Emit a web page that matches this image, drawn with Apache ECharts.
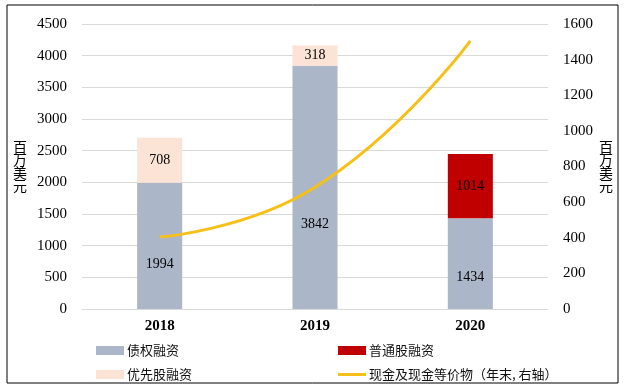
<!DOCTYPE html>
<html><head><meta charset="utf-8">
<script src="https://cdn.jsdelivr.net/npm/echarts@6/dist/echarts.min.js"></script>
<style>html,body{margin:0;padding:0;background:#fff}#c{width:629px;height:392px}</style>
</head><body><div id="c"></div>
<script>
const categories = ['2018', '2019', '2020'];
const debt = [1994, 3842, 1434];
const preferred = [708, 318, null];
const common = [null, null, 1014];
const cash = [404, 683, 1505];
const leftTicks = [0, 4500, 500];
const rightTicks = [0, 1600, 200];

const serif = '"Liberation Serif","Times New Roman",serif';
const cjk = '"Noto Sans CJK SC","Noto Sans",sans-serif';
const chart = echarts.init(document.getElementById('c'));
const lbl = (pos) => ({show: true, position: pos, align: 'center', verticalAlign: 'middle',
  color: '#000', fontFamily: serif, fontSize: 14,
  formatter: p => p.value == null ? '' : String(p.value)});
const mkLegend = (name, left, top, h) => ({
  data: [name], left: left, top: top, itemWidth: 28, itemHeight: h, itemGap: 0,
  icon: 'rect', textStyle: {fontFamily: cjk, fontSize: 13, color: '#111', padding: [0,0,0,-2]}
});
const plain = v => String(v);
chart.setOption({
  animation: false,
  grid: {left: 82, right: 81, top: 24, bottom: 83},
  legend: [
    mkLegend('债权融资', 91, 339, 9),
    mkLegend('普通股融资', 333, 339, 9),
    mkLegend('优先股融资', 91, 363, 9),
    mkLegend('现金及现金等价物（年末, 右轴）', 333, 363, 3)
  ],
  graphic: [{type: 'rect', shape: {x: 7, y: 5, width: 611, height: 378},
    style: {fill: 'none', stroke: '#000', lineWidth: 1}, silent: true}],
  xAxis: {type: 'category', data: categories,
    axisLine: {show: true, lineStyle: {color: '#D9D9D9'}}, axisTick: {show: false},
    axisLabel: {fontFamily: serif, fontWeight: 'bold', fontSize: 15, color: '#000', margin: 10}},
  yAxis: [
    {type: 'value', min: leftTicks[0], max: leftTicks[1], interval: leftTicks[2],
     name: '百\n万\n美\n元', nameLocation: 'middle', nameRotate: 0, nameGap: 55,
     nameTextStyle: {fontFamily: cjk, fontSize: 14, color: '#000', lineHeight: 13},
     axisLabel: {fontFamily: serif, fontSize: 15, color: '#000', margin: 15, formatter: plain},
     splitLine: {lineStyle: {color: '#D9D9D9'}}, axisLine: {show: false}, axisTick: {show: false}},
    {type: 'value', min: rightTicks[0], max: rightTicks[1], interval: rightTicks[2],
     name: '百\n万\n美\n元', nameLocation: 'middle', nameRotate: 0, nameGap: 47,
     nameTextStyle: {fontFamily: cjk, fontSize: 14, color: '#000', lineHeight: 13},
     axisLabel: {fontFamily: serif, fontSize: 15, color: '#000', margin: 15, formatter: plain},
     splitLine: {show: false}, axisLine: {show: false}, axisTick: {show: false}}
  ],
  series: [
    {name: '债权融资', type: 'bar', stack: 'a', data: debt, barWidth: '29%',
     itemStyle: {color: '#ABB6C8'}, label: lbl(['50%', '65%'])},
    {name: '优先股融资', type: 'bar', stack: 'a', data: preferred,
     itemStyle: {color: '#FBE3D6'}, label: lbl('inside')},
    {name: '普通股融资', type: 'bar', stack: 'a', data: common,
     itemStyle: {color: '#C00000'}, label: lbl('inside')},
    {name: '现金及现金等价物（年末, 右轴）', type: 'line', yAxisIndex: 1, data: cash,
     smooth: 0.5, symbol: 'none', lineStyle: {color: '#F6C018', width: 3}, itemStyle: {color: '#F6C018'}, z: 5}
  ]
});
</script></body></html>
